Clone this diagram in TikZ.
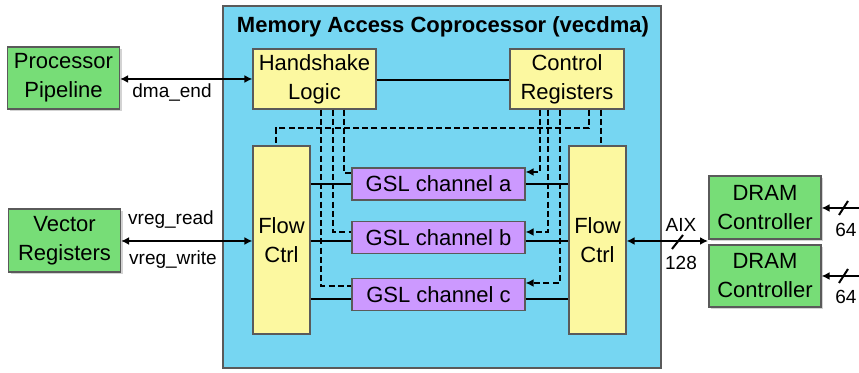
\documentclass[tikz,border=0pt]{standalone}
\usepackage{fontspec}
\setmainfont{Liberation Sans}
\usepackage{tikz}
\usetikzlibrary{arrows.meta,shadows}
\definecolor{dma_blue}{RGB}{118,214,242}
\definecolor{blk_yellow}{RGB}{252,248,160}
\definecolor{gsl_purple}{RGB}{204,153,255}
\definecolor{ext_green}{RGB}{119,221,119}
\definecolor{edge_gray}{RGB}{90,90,90}

\tikzset{
  blk/.style={draw=edge_gray, line width=0.6pt, inner sep=0pt, align=center,
    font=\fontsize{11}{14.5}\selectfont},
  hsbox/.style={blk, fill=blk_yellow},
  gslbox/.style={blk, fill=gsl_purple, minimum width=86.5pt, minimum height=16pt},
  extbox/.style={blk, fill=ext_green, minimum width=56pt,
    drop shadow={shadow xshift=1.2pt, shadow yshift=-1.2pt, opacity=0.35}},
  wire/.style={line width=1pt},
  bus/.style={line width=1pt, <->},
  ctl/.style={line width=1pt, dash pattern=on 3pt off 1.6pt},
  lbl/.style={font=\fontsize{9.5}{12}\selectfont, inner sep=0pt},
}

\begin{document}
\begin{tikzpicture}[x=0.5pt,y=-0.5pt,>={Latex[length=4pt,width=4pt]}]
\useasboundingbox (0,0) rectangle (859,373);

% coprocessor frame
\node[draw=edge_gray, line width=0.6pt, fill=dma_blue, minimum width=219pt, minimum height=181pt, inner sep=0pt] (vecdma) at (442,187) {};
\node[font=\bfseries\fontsize{11}{14}\selectfont, inner sep=0pt] (title) at (443,27) {Memory Access Coprocessor (vecdma)};

% blocks inside
\node[hsbox, minimum width=61.5pt, minimum height=30pt] (hs) at (314.5,79) {Handshake\\Logic};
\node[hsbox, minimum width=57pt, minimum height=30pt] (cr) at (567,79) {Control\\Registers};
\node[hsbox, minimum width=28.5pt, minimum height=94pt] (fcl) at (281.5,240) {Flow\\Ctrl};
\node[hsbox, minimum width=28.5pt, minimum height=94pt] (fcr) at (597.5,240) {Flow\\Ctrl};

\node[gslbox] (gsla) at (438.5,184) {GSL channel a};
\node[gslbox] (gslb) at (438.5,237.5) {GSL channel b};
\node[gslbox] (gslc) at (438.5,294.5) {GSL channel c};

% outside blocks
\node[extbox, minimum height=31pt] (pp) at (63.5,78) {Processor\\Pipeline};
\node[extbox, minimum height=31.5pt] (vr) at (64.5,240.5) {Vector\\Registers};
\node[extbox, minimum height=31.5pt] (dram1) at (765,207.5) {DRAM\\Controller};
\node[extbox, minimum height=31pt] (dram2) at (765,276) {DRAM\\Controller};

% data paths
\draw[wire] (hs.east |- 0,80) -- (cr.west |- 0,80);
\draw[wire] (fcl.east |- 0,184) -- (gsla.west |- 0,184);
\draw[wire] (gsla.east |- 0,184) -- (fcr.west |- 0,184);
\draw[wire] (fcl.east |- 0,241) -- (gslb.west |- 0,241);
\draw[wire] (gslb.east |- 0,241) -- (fcr.west |- 0,241);
\draw[wire] (fcl.east |- 0,299) -- (gslc.west |- 0,299);
\draw[wire] (gslc.east |- 0,299) -- (fcr.west |- 0,299);

% control from handshake logic
\draw[ctl] (hs.south -| 344,0) |- (gsla.west |- 0,173);
\draw[ctl] (hs.south -| 333,0) |- (gslb.west |- 0,232);
\draw[ctl] (hs.south -| 321,0) |- (gslc.west |- 0,286);

% control from control registers
\draw[ctl,->] (cr.south -| 540,0) |- (gsla.east |- 0,172);
\draw[ctl,->] (cr.south -| 548,0) |- (gslb.east |- 0,232);
\draw[ctl,->] (cr.south -| 560,0) |- (gslc.east |- 0,283);
\draw[ctl] (cr.south -| 589,0) |- (276,128) -- (fcl.north -| 276,0);
\draw[ctl] (cr.south -| 601,0) -- (fcr.north -| 601,0);

% external buses
\draw[bus] (pp.east |- 0,79) -- (hs.west |- 0,79);
\node[lbl] (dmaend) at (172,93) {dma\_end};

\draw[bus] (vr.east |- 0,241) -- (fcl.west |- 0,241);
\node[lbl] (vread) at (171,220) {vreg\_read};
\node[lbl] (vwrite) at (173,260) {vreg\_write};

\coordinate (aix) at (708,241);
\draw[bus] (fcr.east |- 0,241) -- (aix);
\draw[wire] (672,249) -- (683,235);
\node[lbl] (aixlbl) at (681,225) {AIX};
\node[lbl] (aixw) at (681,263) {128};

\coordinate (mem1) at (862,208);
\coordinate (mem2) at (862,276);
\draw[wire,->] (mem1) -- (dram1.east |- mem1);
\draw[wire,->] (mem2) -- (dram2.east |- mem2);
\draw[wire] (839,215) -- (848,201);
\draw[wire] (839,283) -- (848,269);
\node[lbl] (w1) at (846,230) {64};
\node[lbl] (w2) at (846,297) {64};
\end{tikzpicture}
\end{document}
